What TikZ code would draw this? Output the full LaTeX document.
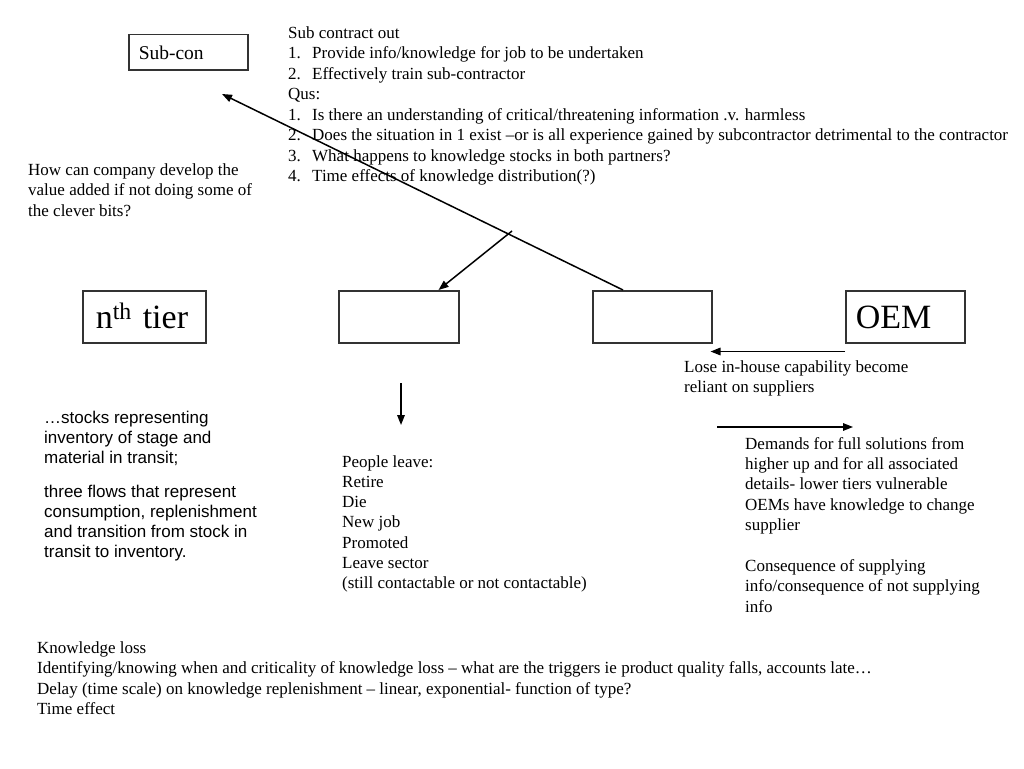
\documentclass[tikz,border=0pt]{standalone}
\usepackage{fontspec}
\setmainfont{Liberation Serif}
\newfontfamily\sansf{Liberation Sans}
\usetikzlibrary{arrows.meta,calc}
\newcommand{\myitem}[2]{\makebox[24pt][l]{#1}#2}
\begin{document}
\begin{tikzpicture}[x=1pt,y=-1pt,
  box/.style={draw=black!80, line width=1.5pt, anchor=north west, inner ysep=0pt, align=left, text depth=0pt},
  txt/.style={anchor=base west, inner sep=0pt, font=\fontsize{17}{20}\selectfont},
  stxt/.style={anchor=base west, inner sep=0pt, font=\sansf\fontsize{17}{20}\selectfont},
  arr/.style={-{Triangle[length=10pt,width=7.5pt]}, line width=1.5pt}]
\useasboundingbox (0,0) rectangle (1024,768);

% boxes
\node[box, minimum height=35pt, inner xsep=10pt, text width=99pt, text height=15pt,
      font=\fontsize{19.5}{20}\selectfont] (subcon) at (128,34) {Sub-con};
\node[box, minimum height=52pt, inner xsep=13pt, text width=97pt, text height=24pt,
      font=\fontsize{34}{36}\selectfont] (tier) at (82,290) {\mbox{n\textsuperscript{th}\hspace{11pt}tier}};
\node[box, minimum height=52pt, minimum width=120pt] (b2) at (338,290) {};
\node[box, minimum height=52pt, minimum width=119pt] (b3) at (592,290) {};
\node[box, minimum height=52pt, inner xsep=10pt, text width=99pt, text height=24pt,
      font=\fontsize{34}{36}\selectfont] (oem) at (845,290) {OEM};

% top text block
\node[txt] (sc0) at (288,38) {Sub contract out};
\node[txt] (sc1) at (288,58.5) {\myitem{1.}{Provide info/knowledge for job to be undertaken}};
\node[txt] (sc2) at (288,79) {\myitem{2.}{Effectively train sub-contractor}};
\node[txt] (sc3) at (288,99.5) {Qus:};
\node[txt] (sc4) at (288,120) {\myitem{1.}{Is there an understanding of critical/threatening information .v. harmless}};
\node[txt] (sc5) at (288,140.5) {\myitem{2.}{Does the situation in 1 exist –or is all experience gained by subcontractor detrimental to the contractor}};
\node[txt] (sc6) at (288,161) {\myitem{3.}{What happens to knowledge stocks in both partners?}};
\node[txt] (sc7) at (288,181) {\myitem{4.}{Time effects of knowledge distribution(?)}};

% left question
\node[txt] (q1) at (28,175) {How can company develop the};
\node[txt] (q2) at (28,195.5) {value added if not doing some of};
\node[txt] (q3) at (28,216) {the clever bits?};

% OEM arrow label
\node[txt] (l1) at (684,372) {Lose in-house capability become};
\node[txt] (l2) at (684,392.5) {reliant on suppliers};

% demands text
\node[txt] (d1) at (745,449) {Demands for full solutions from};
\node[txt] (d2) at (745,469.4) {higher up and for all associated};
\node[txt] (d3) at (745,489.8) {details- lower tiers vulnerable};
\node[txt] (d4) at (745,510.2) {OEMs have knowledge to change};
\node[txt] (d5) at (745,530.6) {supplier};
\node[txt] (d6) at (745,571.4) {Consequence of supplying};
\node[txt] (d7) at (745,591.8) {info/consequence of not supplying};
\node[txt] (d8) at (745,612.2) {info};

% people leave
\node[txt] (p1) at (342,467) {People leave:};
\node[txt] (p2) at (342,487.3) {Retire};
\node[txt] (p3) at (342,507.6) {Die};
\node[txt] (p4) at (342,527.9) {New job};
\node[txt] (p5) at (342,548.2) {Promoted};
\node[txt] (p6) at (342,568.5) {Leave sector};
\node[txt] (p7) at (342,588.8) {(still contactable or not contactable)};

% sans block
\node[stxt] (s1) at (44,423) {…stocks representing};
\node[stxt] (s2) at (44,443) {inventory of stage and};
\node[stxt] (s3) at (44,463) {material in transit;};
\node[stxt] (s4) at (44,497) {three flows that represent};
\node[stxt] (s5) at (44,517) {consumption, replenishment};
\node[stxt] (s6) at (44,537) {and transition from stock in};
\node[stxt] (s7) at (44,557) {transit to inventory.};

% bottom block
\node[txt] (k1) at (37,653) {Knowledge loss};
\node[txt] (k2) at (37,673.5) {Identifying/knowing when and criticality of knowledge loss – what are the triggers ie product quality falls, accounts late…};
\node[txt] (k3) at (37,694) {Delay (time scale) on knowledge replenishment – linear, exponential- function of type?};
\node[txt] (k4) at (37,714) {Time effect};

% connectors
\coordinate (subtip) at (222,94);
\draw[arr] ($(b3.north west)+(31,0)$) -- (subtip);
\coordinate (a2s) at (512,231);
\draw[arr] (a2s) -- ($(b2.north east)+(-21,0)$);
\coordinate (a3s) at (401,383);
\coordinate (a3e) at (401,425);
\draw[arr] (a3s) -- (a3e);
\draw[arr] ($(oem.south west)+(0,8)$) -- ($(b3.south east)+(-2,8)$);
\coordinate (a5s) at (717,427);
\coordinate (a5e) at (853,427);
\draw[arr] (a5s) -- (a5e);
\end{tikzpicture}
\end{document}
